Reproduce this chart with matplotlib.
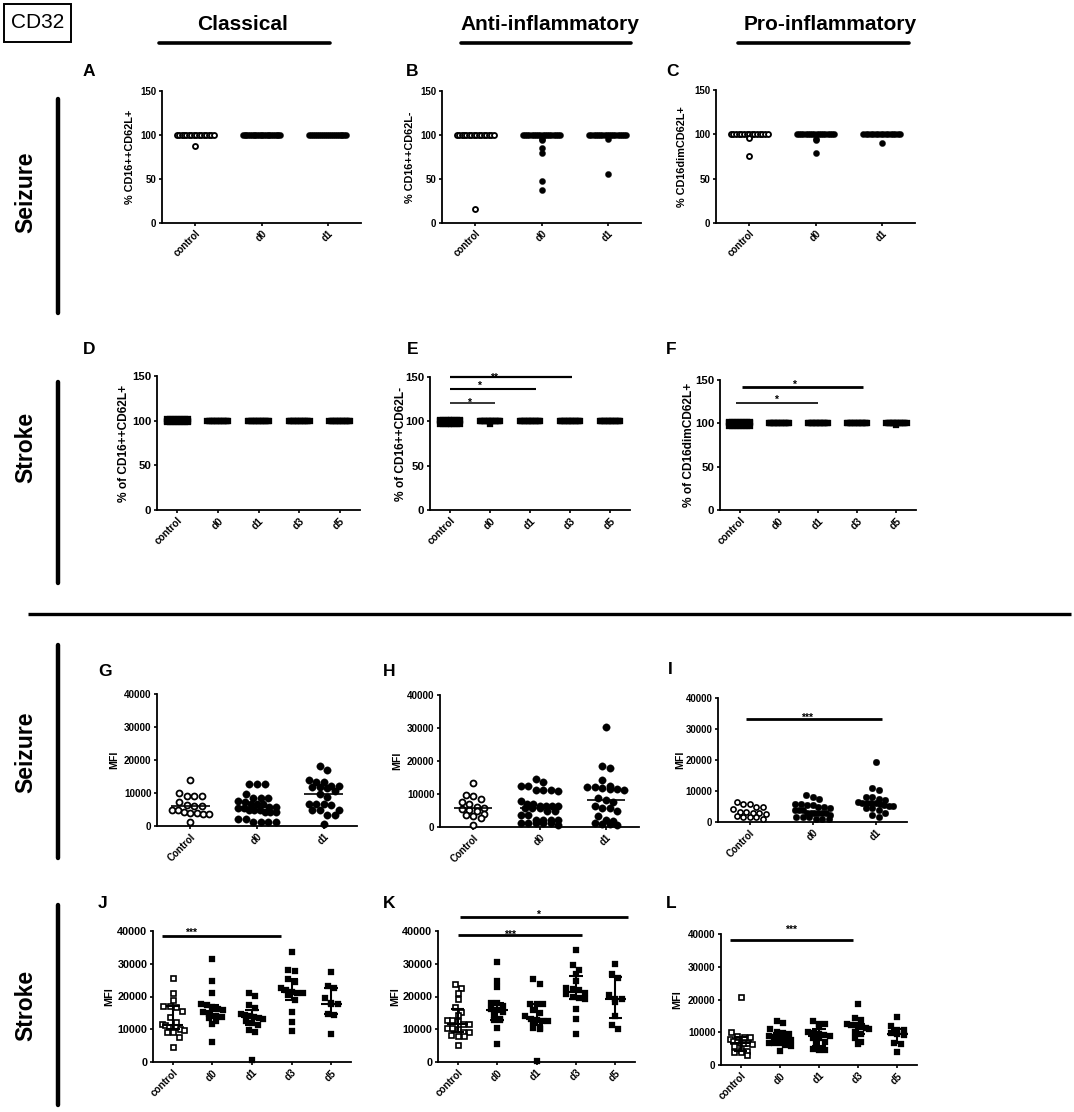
import numpy as np
import matplotlib
matplotlib.use('Agg')
import matplotlib.pyplot as plt
from matplotlib.lines import Line2D
from matplotlib.patches import Rectangle

plt.rcParams['font.family'] = ['Liberation Sans', 'DejaVu Sans']
plt.rcParams['font.weight'] = 'bold'

# ---------------- data ----------------
groups_seiz = ['control', 'd0', 'd1']
groups_seiz_mfi = ['Control', 'd0', 'd1']
groups_stroke = ['control', 'd0', 'd1', 'd3', 'd5']
pct_ticks = [0, 50, 100, 150]
mfi_ticks = [0, 10000, 20000, 30000, 40000]

col_titles = ['Classical', 'Anti-inflammatory', 'Pro-inflammatory']
row_titles = ['Seizure', 'Stroke', 'Seizure', 'Stroke']
panel_letters = ['A', 'B', 'C', 'D', 'E', 'F', 'G', 'H', 'I', 'J', 'K', 'L']

A_control = [100] * 16 + [88]
A_d0 = [100] * 22
A_d1 = [100] * 20
B_control = [100] * 16 + [16]
B_d0 = [100] * 18 + [96, 94, 85, 80, 48, 38]
B_d1 = [100] * 18 + [96, 56]
C_control = [100] * 15 + [95.5, 75]
C_d0 = [100] * 18 + [95, 94, 79]
C_d1 = [100] * 16 + [90]

D_control = [102] * 8 + [100] * 8 + [98] * 8
D_d0 = [100] * 16
D_d1 = [100] * 16
D_d3 = [100] * 16
D_d5 = [100] * 16
E_control = [102] * 8 + [100] * 8 + [97.5] * 8
E_d0 = [100] * 16 + [97]
E_d1 = [100] * 16
E_d3 = [100] * 16
E_d5 = [100] * 16
F_control = [102] * 8 + [100] * 8 + [97.5] * 8
F_d0 = [100] * 16
F_d1 = [100] * 16
F_d3 = [100] * 16
F_d5 = [100] * 16 + [98]

G_control = [13800, 10100, 9200, 9000, 9000, 7200, 6400, 6200, 6200, 4900, 4900, 4100, 3800, 3800, 3500, 3500, 1300]
G_d0 = [12600, 12600, 12600, 9600, 8400, 8400, 8400, 7600, 7400, 6700, 6700, 6700, 5900, 5900, 5500, 5500,
        4900, 4900, 4900, 4100, 4100, 4100, 2100, 2100, 1300, 1300, 1300, 1300]
G_d1 = [18200, 17000, 13800, 13200, 13200, 12000, 12000, 11800, 11800, 11600, 10500, 9800, 8800, 6800, 6800,
        6800, 6500, 4900, 4800, 4800, 3200, 3200, 600]
H_control = [13200, 9700, 9500, 8400, 7700, 6900, 6100, 5900, 5500, 5100, 4900, 3800, 3500, 3200, 2800, 500]
H_d0 = [14400, 13600, 12400, 12400, 11300, 11300, 11300, 10800, 7900, 6900, 6900, 6300, 6300, 6300, 6300, 5700,
        5700, 5700, 4900, 4900, 3500, 3500, 2200, 2200, 2200, 2200, 1200, 1200, 1200, 1200, 1200, 700]
H_d1 = [30400, 18500, 18000, 14200, 12400, 12000, 12000, 11900, 11400, 11400, 11300, 8900, 8300, 7700, 6300,
        5900, 5900, 4800, 3200, 2200, 1700, 1200, 1000, 800, 600]
I_control = [6500, 5800, 5800, 5000, 5000, 4200, 3200, 3100, 3000, 2800, 2600, 1800, 1700, 1700, 1600, 1000]
I_d0 = [8700, 8200, 7300, 5800, 5800, 5600, 5400, 5000, 5000, 4400, 3900, 3900, 3900, 3000, 3000, 3000, 3000,
        3000, 3000, 2300, 1700, 1700, 1700, 1000, 1000, 1000]
I_d1 = [19300, 10900, 10300, 8200, 8000, 7500, 7200, 6400, 6200, 6200, 6000, 6000, 5800, 5500, 5300, 5200, 4500,
        4400, 3900, 3000, 2300, 1700]

J_control = [25500, 21200, 18900, 17100, 17000, 16900, 15600, 13800, 12300, 11500, 11200, 10800, 10700, 10600,
             10000, 9900, 9200, 9200, 7700, 4700]
J_d0 = [31300, 24800, 21100, 17600, 17300, 16800, 16200, 16000, 15200, 14600, 14000, 13600, 13400, 12400, 11500, 6000]
J_d1 = [21000, 20300, 17500, 16500, 14600, 14200, 14000, 13800, 13500, 13200, 12600, 12000, 11200, 9800, 9300, 500]
J_d3 = [33500, 28000, 27800, 25200, 24500, 22500, 22000, 21500, 21200, 21000, 20500, 19000, 15200, 12200, 9500]
J_d5 = [27500, 23100, 22500, 19400, 17900, 17800, 17700, 14600, 14300, 8700]
K_control = [23700, 22700, 21200, 19200, 16900, 15400, 14400, 12700, 12700, 12400, 11700, 11500, 10400, 10300,
             10200, 9300, 9300, 8100, 7800, 7800, 5300]
K_d0 = [30600, 24700, 22800, 18000, 17900, 17200, 16200, 16000, 15400, 14500, 13000, 12800, 12700, 10300, 5500]
K_d1 = [25400, 23800, 17800, 17700, 17600, 16000, 15000, 14000, 13200, 12700, 12600, 12500, 12100, 10500, 10300,
        10200, 400]
K_d3 = [34200, 29600, 28100, 26900, 24600, 22500, 22200, 22000, 21000, 20800, 20000, 19500, 19300, 16200, 13100, 8500]
K_d5 = [29900, 26800, 25800, 20500, 19200, 19100, 18300, 14100, 11400, 10000]
L_control = [20700, 10200, 8800, 8700, 8600, 7900, 7400, 7000, 6800, 6700, 6600, 6500, 5800, 4500, 4200, 4100,
             4000, 3000]
L_d0 = [13300, 12800, 11000, 10000, 9700, 9600, 8800, 8700, 8200, 7900, 7500, 6800, 6700, 6600, 6000, 5800, 4200]
L_d1 = [13500, 12600, 12400, 11700, 10000, 9700, 9500, 9200, 8800, 8200, 8100, 7000, 6500, 5000, 4800, 4600, 4500]
L_d3 = [18700, 14300, 13600, 12400, 12300, 12200, 11800, 11600, 11400, 11000, 10000, 9500, 8200, 6900, 6500]
L_d5 = [14800, 11800, 10800, 10700, 9700, 9500, 9200, 6700, 6500, 3900]

# significance annotations: (x_start, x_end, y_line, label, x_label, y_label)
E_sig = [(0, 3.05, 150, '**', 1.1, 153), (0, 2.14, 136, '*', 0.72, 143), (0, 1.12, 121, '*', 0.48, 124)]
F_sig = [(0.05, 3.15, 142, '*', 1.38, 148), (-0.1, 2.0, 123, '*', 0.92, 131)]
I_sig = [(-0.05, 2.1, 33300, '***', 0.91, 34600)]
J_sig = [(-0.27, 2.74, 38500, '***', 0.45, 40500)]
K_sig = [(0.0, 3.15, 38800, '***', 1.32, 39700), (0.07, 4.31, 44400, '*', 2.03, 45900)]
L_sig = [(-0.28, 2.86, 38200, '***', 1.28, 42200)]

# ---------------- figure ----------------
W, H = 1074, 1112
fig = plt.figure(figsize=(W / 100, H / 100), dpi=100)


def fx(x):
    return x / W


def fy(y):
    return 1 - y / H


def fig_line(x0, y0, x1, y1, lw, cap='round'):
    fig.add_artist(Line2D([fx(x0), fx(x1)], [fy(y0), fy(y1)], transform=fig.transFigure,
                          color='black', lw=lw, solid_capstyle=cap))


def swarm(vals, tol, step, maxhalf):
    vals = np.asarray(vals, float)
    order = np.argsort(-vals, kind='stable')
    offs = np.zeros(len(vals))
    i = 0
    while i < len(order):
        start = vals[order[i]]
        j = i
        while j < len(order) and start - vals[order[j]] <= tol:
            j += 1
        n = j - i
        sp = step if n < 2 else min(step, 2 * maxhalf / (n - 1))
        offs[order[i:j]] = (np.arange(n) - (n - 1) / 2) * sp
        i = j
    return offs


def panel(box, groups, data, ylim, yticks, ylabel, marker, open_first, ms, mew,
          tick_fs, label_fs, label_dx, tol_px, step_px, maxhalf=0.28,
          medians=False, iqr=False, xt_fs=7, fill_ms=None):
    l, t, r, b = box
    ax = fig.add_axes([fx(l), fy(b), (r - l) / W, (b - t) / H])
    n = len(groups)
    ax.set_xlim(-0.5, n - 0.5)
    ax.set_ylim(*ylim)
    xpu = (r - l) / n
    ypu = (b - t) / (ylim[1] - ylim[0])
    if fill_ms is None:
        fill_ms = ms + mew
    for i, vals in enumerate(data):
        vals = np.asarray(vals, float)
        offs = swarm(vals, tol_px / ypu, step_px / xpu, maxhalf)
        if open_first and i == 0:
            ax.plot(i + offs, vals, ls='none', marker=marker, ms=ms, mfc='white', mec='black',
                    mew=mew, zorder=3, clip_on=False)
        else:
            ax.plot(i + offs, vals, ls='none', marker=marker, ms=fill_ms, mfc='black',
                    mec='black', mew=0.2, zorder=3, clip_on=False)
        if medians:
            ax.hlines(np.median(vals), i - 0.29, i + 0.29, color='black', lw=1.2, zorder=4)
        if iqr:
            q1, med, q3 = np.percentile(vals, [25, 50, 75], method='weibull')
            ax.vlines(i, q1, q3, color='black', lw=1.5, zorder=4)
            ax.hlines([q1, q3], i - 0.17, i + 0.17, color='black', lw=1.5, zorder=4)
            ax.hlines(med, i - 0.27, i + 0.27, color='black', lw=1.5, zorder=4)
    for s in ['top', 'right']:
        ax.spines[s].set_visible(False)
    for s in ['left', 'bottom']:
        ax.spines[s].set_linewidth(1.3)
    ax.set_yticks(yticks)
    ax.set_yticklabels([str(v) for v in yticks], fontsize=tick_fs, fontweight='bold')
    ax.set_xticks(range(n))
    ax.set_xticklabels(groups, rotation=45, ha='right', va='top', rotation_mode='anchor',
                       fontsize=xt_fs, fontweight='bold')
    ax.tick_params(axis='both', direction='out', length=2.5, width=1.2, pad=1.5)
    ax.set_ylabel(ylabel, fontsize=label_fs, fontweight='bold', va='center')
    ax.yaxis.set_label_coords(label_dx / (r - l), 0.5)
    return ax


def sig(ax, items, lws, fs=7.5):
    for (x0, x1, y, txt, tx, ty), lw in zip(items, lws):
        ax.plot([x0, x1], [y, y], color='black', lw=lw, clip_on=False, solid_capstyle='butt')
        ax.annotate(txt, (tx, ty), xytext=(0, -0.58 * fs), textcoords='offset points',
                    ha='center', va='baseline', fontsize=fs, fontweight='bold', annotation_clip=False)


# --- row 1: A-C
pA = dict(ylim=(0, 150), yticks=pct_ticks, marker='o', open_first=True, ms=3.6, mew=1.35,
          fill_ms=4.5, tick_fs=7.0, label_fs=7.8, tol_px=0.5, step_px=6.0, xt_fs=7)
axA = panel((162, 91, 361, 223), groups_seiz, [A_control, A_d0, A_d1], ylabel='% CD16++CD62L+',
            label_dx=-32, **pA)
axB = panel((442, 91, 641, 223), groups_seiz, [B_control, B_d0, B_d1], ylabel='% CD16++CD62L-',
            label_dx=-32, **pA)
axC = panel((716, 90, 915, 223), groups_seiz, [C_control, C_d0, C_d1], ylabel='% CD16dimCD62L+',
            label_dx=-34, **pA)

# --- row 2: D-F
pD = dict(ylim=(0, 150), yticks=pct_ticks, marker='s', open_first=False, ms=3.6, mew=0.3,
          fill_ms=4.3, tick_fs=8.2, label_fs=8.6, tol_px=0.5, step_px=5, maxhalf=0.26, xt_fs=7.3)
axD = panel((157, 376, 360, 510), groups_stroke, [D_control, D_d0, D_d1, D_d3, D_d5],
            ylabel='% of CD16++CD62L+', label_dx=-33, **pD)
axE = panel((430, 377, 630, 510), groups_stroke, [E_control, E_d0, E_d1, E_d3, E_d5],
            ylabel='% of CD16++CD62L-', label_dx=-29, **pD)
axF = panel((720, 380, 916, 510), groups_stroke, [F_control, F_d0, F_d1, F_d3, F_d5],
            ylabel='% of CD16dimCD62L+', label_dx=-31, **pD)
sig(axE, E_sig, [1.6, 1.5, 1.1])
sig(axF, F_sig, [2.0, 1.2])

# --- row 3: G-I
pG = dict(ylim=(0, 40000), yticks=mfi_ticks, marker='o', open_first=True, ms=4.3, mew=1.3,
          fill_ms=5.4, tick_fs=7.1, label_fs=7.6, tol_px=6.5, step_px=7.5, xt_fs=7)
axG = panel((157, 694, 357, 826), groups_seiz_mfi, [G_control, G_d0, G_d1], ylabel='MFI',
            label_dx=-43, medians=True, **pG)
axH = panel((440, 695, 639, 827), groups_seiz_mfi, [H_control, H_d0, H_d1], ylabel='MFI',
            label_dx=-43, medians=True, **pG)
pI = dict(pG)
pI.update(ms=3.7, mew=1.2, fill_ms=4.8, step_px=6.5, tol_px=5.5, tick_fs=6.9)
axI = panel((718, 698, 907, 822), groups_seiz_mfi, [I_control, I_d0, I_d1], ylabel='MFI',
            label_dx=-38, **pI)
sig(axI, I_sig, [2.0])

# --- row 4: J-L
pJ = dict(ylim=(0, 40000), yticks=mfi_ticks, marker='s', open_first=True, ms=3.6, mew=1.2,
          fill_ms=4.5, tick_fs=7.8, label_fs=7.8, tol_px=5.5, step_px=6.3, xt_fs=7.2)
axJ = panel((153, 931, 351, 1062), groups_stroke, [J_control, J_d0, J_d1, J_d3, J_d5], ylabel='MFI',
            label_dx=-44, iqr=True, **pJ)
axK = panel((438, 931, 635, 1062), groups_stroke, [K_control, K_d0, K_d1, K_d3, K_d5], ylabel='MFI',
            label_dx=-43, iqr=True, **pJ)
pL = dict(pJ)
pL.update(tick_fs=7.1)
axL = panel((721, 934, 917, 1065), groups_stroke, [L_control, L_d0, L_d1, L_d3, L_d5], ylabel='MFI',
            label_dx=-44, iqr=True, **pL)
sig(axJ, J_sig, [2.0])
sig(axK, K_sig, [2.0, 2.0])
sig(axL, L_sig, [2.0])

# ---------------- decorations ----------------
fig.add_artist(Rectangle((fx(4), fy(42)), 67 / W, 38 / H, transform=fig.transFigure,
                         fill=False, lw=1.4, edgecolor='black'))
fig.text(fx(37.5), fy(23), 'CD32', fontsize=15, fontweight='normal', ha='center', va='center')

for title, cx, u0, u1 in zip(col_titles, [243, 550, 830], [159, 461, 738], [330, 631, 909]):
    fig.text(fx(cx), fy(25), title, fontsize=15, fontweight='bold', ha='center', va='center')
    fig_line(u0, 43, u1, 43, 2.6)

for title, cy, y0, y1 in zip(row_titles, [192, 447, 752, 1005], [99, 382, 645, 905], [313, 583, 858, 1105]):
    fig.text(fx(26), fy(cy), title, fontsize=16.5, fontweight='bold', ha='center', va='center',
             rotation=90)
    fig_line(58, y0, 58, y1, 3.2)

fig_line(28, 614, 1071, 614, 2.4, cap='butt')

letter_pos = [(83, 72), (406, 72), (666, 72), (83, 350), (407, 350), (666, 350),
              (98, 671), (383, 671), (668, 669), (98, 903), (383, 903), (666, 903)]
for letter, (lx, ly) in zip(panel_letters, letter_pos):
    fig.text(fx(lx), fy(ly), letter, fontsize=12.5, fontweight='bold', ha='left', va='center')

fig.savefig('out.png', dpi=100, facecolor='white')
